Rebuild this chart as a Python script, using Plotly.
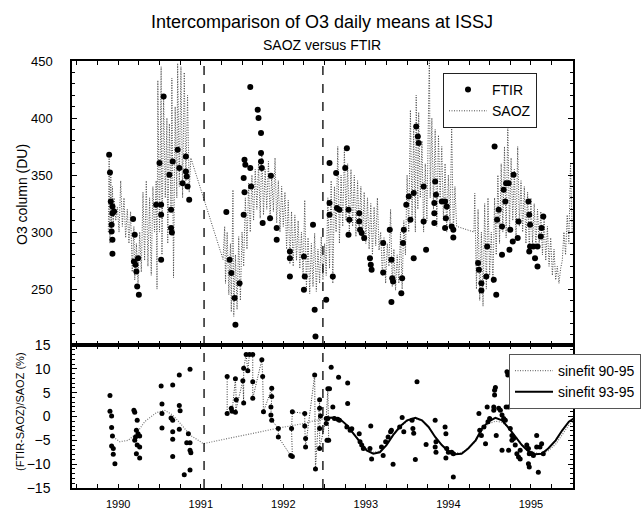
import plotly.graph_objects as go
from plotly.subplots import make_subplots

# ---------------- data ----------------
# FTIR daily means of O3 column (DU): (decimal year, DU)
ftir_points = [
    (1990.39, 367.8), (1990.40, 352.3), (1990.41, 326.9), (1990.43, 322.5), (1990.43, 316.6),
    (1990.42, 306.4), (1990.42, 300.5), (1990.43, 293.2), (1990.43, 281.0), (1990.45, 318.0),
    (1990.68, 311.4), (1990.70, 297.6), (1990.69, 274.2), (1990.71, 271.3), (1990.72, 265.5),
    (1990.73, 252.3), (1990.75, 245.0), (1990.74, 277.1),
    (1990.96, 323.9), (1991.00, 360.5), (1991.02, 323.9), (1991.02, 315.2), (1991.02, 275.7),
    (1991.05, 418.9),
    (1991.12, 350.2), (1991.14, 319.5), (1991.14, 303.5), (1991.15, 299.7), (1991.16, 361.9),
    (1991.22, 372.2), (1991.24, 356.1), (1991.28, 342.9), (1991.32, 353.2), (1991.33, 348.8),
    (1991.34, 340.0), (1991.36, 328.3), (1991.32, 366.3),
    (1991.81, 317.5), (1991.85, 275.7), (1991.87, 264.0), (1991.91, 242.1), (1991.92, 218.7),
    (1991.97, 255.2),
    (1992.03, 363.4), (1992.04, 359.0), (1992.02, 347.3), (1992.03, 334.8), (1992.02, 315.2),
    (1992.10, 427.2), (1992.10, 356.1), (1992.11, 340.0), (1992.19, 407.3), (1992.20, 400.0),
    (1992.23, 386.8), (1992.23, 369.3), (1992.23, 361.9), (1992.24, 356.1), (1992.25, 307.9),
    (1992.35, 349.4), (1992.34, 312.2), (1992.42, 303.5), (1992.42, 293.2),
    (1992.58, 277.1), (1992.58, 261.1), (1992.58, 283.0), (1992.75, 278.6), (1992.76, 261.1),
    (1992.75, 249.4), (1992.86, 306.4), (1992.88, 231.8), (1992.89, 208.4),
    (1993.02, 240.6), (1993.06, 360.5), (1993.06, 325.4), (1993.06, 315.2), (1993.10, 261.1),
    (1993.14, 351.7), (1993.15, 321.0), (1993.18, 319.5), (1993.27, 373.6), (1993.25, 356.1),
    (1993.29, 319.5), (1993.29, 297.6), (1993.30, 310.8), (1993.42, 316.6), (1993.42, 309.3),
    (1993.43, 302.0), (1993.45, 299.1), (1993.48, 294.7), (1993.55, 277.1), (1993.56, 271.3),
    (1993.57, 266.9),
    (1993.71, 290.3), (1993.71, 264.6), (1993.81, 275.7), (1993.82, 259.6), (1993.83, 256.7),
    (1993.81, 238.6), (1993.79, 302.0), (1993.93, 246.4), (1993.94, 259.6), (1993.95, 290.3),
    (1993.96, 302.0), (1993.99, 323.9), (1994.02, 331.2), (1994.04, 310.8), (1994.08, 277.1),
    (1994.08, 334.2), (1994.11, 392.6), (1994.13, 383.9), (1994.14, 378.0), (1994.20, 309.3),
    (1994.20, 340.0), (1994.23, 284.5), (1994.34, 344.4), (1994.33, 325.4), (1994.33, 316.6),
    (1994.33, 307.9), (1994.35, 332.7), (1994.42, 326.9), (1994.46, 326.9), (1994.47, 312.2),
    (1994.46, 303.5), (1994.48, 322.5), (1994.54, 304.9), (1994.56, 295.3), (1994.56, 302.0),
    (1994.86, 272.8), (1994.87, 266.9), (1994.90, 255.2), (1994.90, 248.8), (1994.96, 261.1),
    (1994.97, 287.4), (1995.05, 258.1), (1995.06, 375.1), (1995.08, 245.0), (1995.09, 310.8),
    (1995.11, 319.5), (1995.15, 280.1), (1995.15, 304.9), (1995.17, 337.1), (1995.19, 326.9),
    (1995.20, 342.9), (1995.23, 342.9), (1995.24, 284.5), (1995.25, 302.0), (1995.28, 291.8),
    (1995.29, 350.2), (1995.34, 294.7), (1995.35, 309.3), (1995.47, 326.9), (1995.48, 315.2),
    (1995.48, 283.0), (1995.49, 287.4), (1995.49, 306.4), (1995.53, 287.4), (1995.55, 277.1),
    (1995.58, 269.8), (1995.58, 287.4), (1995.62, 296.2), (1995.63, 303.5), (1995.65, 313.7),
]

# SAOZ daily means of O3 column (DU)
saoz_points = [
    (1990.38, 300), (1990.39, 365), (1990.40, 290), (1990.41, 350), (1990.42, 300), (1990.43, 340),
    (1990.44, 305), (1990.45, 330), (1990.47, 310), (1990.49, 322), (1990.51, 300), (1990.53, 345),
    (1990.55, 305), (1990.57, 330), (1990.59, 295), (1990.61, 320), (1990.63, 290), (1990.65, 318),
    (1990.67, 265), (1990.69, 305), (1990.70, 258), (1990.72, 290), (1990.74, 255), (1990.76, 300),
    (1990.78, 265), (1990.80, 335), (1990.82, 275), (1990.84, 345), (1990.86, 270), (1990.88, 330),
    (1990.90, 262), (1990.92, 340), (1990.94, 300), (1990.96, 345), (1990.97, 250), (1990.98, 433),
    (1991.00, 300), (1991.02, 445), (1991.03, 280), (1991.05, 420), (1991.07, 330), (1991.09, 400),
    (1991.10, 290), (1991.12, 395), (1991.14, 320), (1991.15, 435), (1991.17, 260), (1991.19, 410),
    (1991.21, 330), (1991.22, 448), (1991.24, 340), (1991.26, 445), (1991.28, 330), (1991.30, 440),
    (1991.32, 345), (1991.34, 420), (1991.36, 335), (1991.38, 365),
    (1991.77, 276), (1991.79, 305), (1991.80, 255), (1991.82, 300), (1991.84, 245), (1991.86, 290),
    (1991.87, 230), (1991.89, 337), (1991.90, 226), (1991.92, 280), (1991.94, 232), (1991.96, 296),
    (1991.98, 240), (1992.00, 300), (1992.02, 270), (1992.04, 330), (1992.06, 285), (1992.08, 343),
    (1992.10, 300), (1992.12, 350), (1992.14, 310), (1992.16, 355), (1992.18, 320), (1992.20, 360),
    (1992.22, 312), (1992.24, 372), (1992.26, 315), (1992.28, 355), (1992.30, 320), (1992.32, 362),
    (1992.34, 312), (1992.36, 350), (1992.38, 318), (1992.40, 365), (1992.42, 308), (1992.44, 345),
    (1992.46, 300), (1992.48, 340), (1992.50, 305), (1992.52, 335), (1992.54, 285), (1992.56, 328),
    (1992.58, 272), (1992.60, 318), (1992.62, 270), (1992.64, 315), (1992.66, 275), (1992.68, 310),
    (1992.70, 268), (1992.72, 300), (1992.74, 260), (1992.76, 328), (1992.78, 250), (1992.80, 295),
    (1992.82, 246), (1992.84, 290), (1992.86, 252), (1992.88, 299), (1992.90, 248), (1992.92, 285),
    (1992.94, 255), (1992.96, 296), (1992.98, 258), (1993.00, 290), (1993.02, 262), (1993.04, 330),
    (1993.06, 268), (1993.08, 345), (1993.10, 255), (1993.12, 340), (1993.14, 300), (1993.16, 375),
    (1993.18, 290), (1993.20, 350), (1993.22, 305), (1993.24, 372), (1993.26, 310), (1993.28, 360),
    (1993.30, 300), (1993.32, 355), (1993.34, 305), (1993.36, 350), (1993.38, 296), (1993.40, 345),
    (1993.42, 300), (1993.44, 340), (1993.46, 292), (1993.48, 335), (1993.50, 290), (1993.52, 330),
    (1993.54, 285), (1993.56, 325), (1993.58, 280), (1993.60, 322), (1993.62, 288), (1993.64, 330),
    (1993.66, 284), (1993.68, 300), (1993.70, 262), (1993.72, 295), (1993.74, 255), (1993.76, 290),
    (1993.78, 270), (1993.80, 320), (1993.82, 252), (1993.84, 285), (1993.86, 249), (1993.88, 280),
    (1993.90, 255), (1993.92, 300), (1993.94, 250), (1993.96, 310), (1993.98, 280), (1994.00, 350),
    (1994.02, 300), (1994.04, 407), (1994.06, 310), (1994.08, 390), (1994.10, 300), (1994.11, 420),
    (1994.13, 320), (1994.14, 405), (1994.16, 330), (1994.18, 380), (1994.20, 300), (1994.22, 360),
    (1994.24, 310), (1994.27, 460), (1994.28, 330), (1994.30, 400), (1994.32, 320), (1994.34, 390),
    (1994.36, 305), (1994.38, 385), (1994.40, 330), (1994.42, 375), (1994.44, 310), (1994.46, 360),
    (1994.48, 300), (1994.50, 350), (1994.52, 305), (1994.54, 392), (1994.56, 300), (1994.58, 340),
    (1994.60, 305),
    (1994.81, 300), (1994.82, 334), (1994.84, 250), (1994.86, 320), (1994.88, 240), (1994.90, 300),
    (1994.92, 235), (1994.94, 325), (1994.96, 250), (1994.98, 330), (1995.00, 262), (1995.02, 300),
    (1995.04, 255), (1995.06, 330), (1995.08, 280), (1995.10, 350), (1995.12, 290), (1995.14, 360),
    (1995.16, 300), (1995.18, 375), (1995.20, 295), (1995.22, 397), (1995.24, 300), (1995.26, 365),
    (1995.28, 310), (1995.30, 355), (1995.32, 295), (1995.34, 375), (1995.36, 305), (1995.38, 345),
    (1995.40, 300), (1995.42, 340), (1995.44, 290), (1995.46, 335), (1995.48, 285), (1995.50, 330),
    (1995.52, 290), (1995.54, 325), (1995.56, 286), (1995.58, 320), (1995.60, 290), (1995.62, 318),
    (1995.64, 280), (1995.66, 312), (1995.68, 275), (1995.70, 305), (1995.72, 270), (1995.74, 295),
    (1995.76, 262), (1995.78, 285), (1995.80, 258), (1995.82, 270), (1995.84, 255), (1995.86, 268),
    (1995.88, 275), (1995.90, 300), (1995.92, 280), (1995.94, 315), (1995.96, 290), (1995.98, 360),
    (1996.00, 300),
]

# relative difference (FTIR-SAOZ)/SAOZ in %, isolated points
diff_points = [
    (1990.40, 4.4), (1990.40, 1.1), (1990.42, 0.1), (1990.42, -2.3), (1990.43, -4.1), (1990.42, -6.2),
    (1990.44, -6.7), (1990.44, -7.9), (1990.46, -9.9),
    (1990.69, 1.3), (1990.70, 0.9), (1990.73, -0.8), (1990.72, -2.9), (1990.74, -3.6), (1990.71, -4.3),
    (1990.70, -5.0), (1990.76, -4.1), (1990.73, -6.0), (1990.76, -6.4), (1990.72, -7.8), (1990.76, -8.7),
    (1991.02, 6.4), (1991.03, 2.6), (1991.03, 0.6), (1991.03, -2.4), (1991.16, 6.6), (1991.14, -0.3),
    (1991.16, -0.8), (1991.16, -3.2), (1991.16, -4.8), (1991.16, -8.4), (1991.24, 8.7), (1991.24, 2.3),
    (1991.25, 1.2), (1991.24, -2.7), (1991.30, -12.2), (1991.35, -3.6), (1991.33, -5.5), (1991.37, -5.5),
    (1991.37, -7.1), (1991.38, -7.6), (1991.37, -11.2), (1991.37, 9.9),
    (1993.08, 10.3), (1993.06, 5.8), (1993.10, 2.0), (1993.17, 8.2), (1993.28, 7.0), (1993.28, 2.7),
    (1993.03, -5.0), (1993.02, -1.5), (1993.04, -0.4), (1993.12, -0.4), (1993.16, -0.6), (1993.18, -0.8),
    (1993.27, -2.2), (1993.31, -2.9), (1993.33, -2.6), (1993.42, -3.6), (1993.43, -5.3), (1993.45, -6.0),
    (1993.47, -6.7), (1993.55, -6.7), (1993.57, -8.9), (1993.56, -2.0), (1993.69, -6.4), (1993.71, -8.2),
    (1993.74, -5.3), (1993.77, -4.3), (1993.80, -3.2), (1993.81, -2.9), (1993.83, -10.0), (1993.91, -2.2),
    (1993.94, -0.2), (1993.96, -3.2), (1994.06, -0.8), (1994.07, -2.5), (1994.08, -3.5), (1994.10, -9.0),
    (1994.12, 7.3), (1994.23, -5.9), (1994.34, -0.8), (1994.35, -5.3), (1994.34, -6.4), (1994.35, -7.5),
    (1994.46, -2.2), (1994.47, -3.6), (1994.48, -6.7), (1994.47, -8.7), (1994.50, -7.5), (1994.54, -7.5),
    (1994.56, -7.8), (1994.56, -12.7),
    (1994.87, 0.6), (1994.88, -2.9), (1994.90, -4.0), (1994.93, -2.2), (1994.95, -5.7), (1994.97, 2.0),
    (1994.98, -1.1), (1995.00, -0.4), (1995.05, 2.0), (1995.06, 4.5), (1995.07, 6.1), (1995.08, -4.0),
    (1995.05, 1.3), (1995.11, 1.7), (1995.13, 1.3), (1995.15, 0.3), (1995.17, -0.4), (1995.19, -0.8),
    (1995.20, 2.0), (1995.23, 2.0), (1995.25, -2.5), (1995.27, -4.0), (1995.27, -5.0), (1995.15, -7.1),
    (1995.23, -7.1), (1995.29, -4.6), (1995.31, -6.0), (1995.33, -7.8), (1995.35, -8.5), (1995.37, -7.1),
    (1995.37, -8.9), (1995.45, -6.0), (1995.47, -6.7), (1995.48, -7.8), (1995.47, -9.9), (1995.48, -10.6),
    (1995.51, -7.8), (1995.53, -8.2), (1995.57, -4.0), (1995.57, -6.4), (1995.59, -11.7), (1995.61, -6.4),
    (1995.63, -5.7), (1995.65, -7.8), (1995.22, 8.7), (1995.06, 5.5), (1995.21, 9.4),
]

# relative difference, 1991-1993 period (drawn connected)
diff_linked_points = [
    (1991.82, 8.4), (1991.82, 0.6), (1991.87, 1.7), (1991.88, 1.1), (1991.92, 7.9), (1991.93, 3.5),
    (1991.92, 0.9), (1992.01, 7.5), (1992.02, 2.8), (1992.02, 10.1), (1992.05, 13.0), (1992.07, 9.6),
    (1992.09, 13.0), (1992.13, 13.0), (1992.13, 7.3), (1992.13, 3.8), (1992.24, 11.9), (1992.25, 8.4),
    (1992.26, 1.0), (1992.36, 5.9), (1992.36, 4.2), (1992.35, 2.0), (1992.35, 0.3), (1992.36, -0.8),
    (1992.44, -2.5), (1992.44, -4.3), (1992.59, -8.2), (1992.61, -8.4), (1992.60, -2.5), (1992.61, 1.0),
    (1992.76, 0.6), (1992.76, -2.0), (1992.77, -4.6), (1992.77, -6.4), (1992.88, 8.7), (1992.89, -11.0),
    (1992.94, 3.5), (1992.94, 1.7), (1992.95, 0.1), (1992.94, -2.5), (1992.94, -6.7), (1993.02, -0.4),
    (1993.04, 5.8), (1993.05, -5.0),
]

sinefit_9095 = [
    (1990.44, -4.3), (1990.52, -5.3), (1990.62, -5.0), (1990.72, -3.6), (1990.82, -1.1), (1990.96, 0.8),
    (1991.06, 1.3), (1991.16, 0.3), (1991.27, -1.8), (1991.37, -3.9), (1991.47, -5.0), (1991.53, -5.7),
    (1992.42, -2.5), (1992.58, -2.0), (1992.74, -1.5), (1992.90, -0.8), (1993.00, -0.5), (1993.11, -0.4),
    (1993.19, -0.8), (1993.27, -1.9), (1993.35, -3.6), (1993.43, -5.2), (1993.51, -6.8), (1993.59, -7.5),
    (1993.67, -7.3), (1993.75, -6.0), (1993.83, -4.0), (1993.92, -2.2), (1994.00, -1.0), (1994.10, -0.5),
    (1994.18, -0.9), (1994.26, -2.2), (1994.34, -4.2), (1994.42, -5.9), (1994.50, -7.1), (1994.58, -7.6),
    (1994.66, -7.6), (1994.74, -6.7), (1994.83, -5.2), (1994.91, -3.0), (1994.99, -1.5), (1995.07, -1.0),
    (1995.15, -1.2), (1995.23, -2.4), (1995.31, -4.2), (1995.39, -5.8), (1995.47, -7.0), (1995.55, -7.6),
    (1995.63, -7.8), (1995.71, -7.2), (1995.80, -5.8), (1995.88, -3.8), (1995.96, -1.8), (1996.02, -1.0),
]

sinefit_9395 = [
    (1993.00, -0.3), (1993.11, -0.2), (1993.19, -0.6), (1993.27, -1.8), (1993.35, -3.6), (1993.43, -5.3),
    (1993.51, -7.1), (1993.59, -7.8), (1993.67, -7.5), (1993.75, -6.0), (1993.83, -3.9), (1993.92, -2.0),
    (1994.00, -0.8), (1994.10, -0.3), (1994.18, -0.8), (1994.26, -2.2), (1994.34, -4.3), (1994.42, -6.0),
    (1994.50, -7.3), (1994.58, -7.9), (1994.66, -7.8), (1994.74, -6.7), (1994.83, -5.0), (1994.91, -2.5),
    (1994.99, -1.0), (1995.07, -0.3), (1995.15, -0.8), (1995.23, -2.4), (1995.31, -4.3), (1995.39, -6.0),
    (1995.47, -7.3), (1995.55, -7.9), (1995.63, -7.8), (1995.71, -6.7), (1995.80, -5.0), (1995.88, -2.9),
    (1995.96, -1.1), (1996.02, -0.4),
]

instrument_breaks = [1991.54, 1992.98]
year_labels = ["1990", "1991", "1992", "1993", "1994", "1995"]
o3_ticks = [250, 300, 350, 400, 450]
pct_ticks = [-15, -10, -5, 0, 5, 10, 15]

# ---------------- figure ----------------
FONT = "Liberation Sans, Arial, Helvetica, sans-serif"
W, H = 643, 514
ML, MR, MT, MB = 72, 70, 61, 26
PW, PH = W - ML - MR, H - MT - MB


def split(points):
    return [p[0] for p in points], [p[1] for p in points]


fig = make_subplots(rows=2, cols=1, shared_xaxes=True, vertical_spacing=0,
                    row_heights=[0.665, 0.335])

st, sv = split(saoz_points)
fig.add_trace(go.Scatter(x=st, y=sv, mode="lines", name="SAOZ", legendrank=2,
                         line=dict(color="#4a4a4a", width=1, dash="1px,1.5px")), row=1, col=1)
ft, fv = split(ftir_points)
fig.add_trace(go.Scatter(x=ft, y=fv, mode="markers", name="FTIR", legendrank=1,
                         marker=dict(color="black", size=6)), row=1, col=1)

s1t, s1v = split(sinefit_9095)
fig.add_trace(go.Scatter(x=s1t, y=s1v, mode="lines", name="sinefit 90-95", legend="legend2",
                         line=dict(color="#777777", width=1.2, dash="1px,1.5px")), row=2, col=1)
s2t, s2v = split(sinefit_9395)
fig.add_trace(go.Scatter(x=s2t, y=s2v, mode="lines", name="sinefit 93-95", legend="legend2",
                         line=dict(color="black", width=2)), row=2, col=1)
lt, lv = split(diff_linked_points)
fig.add_trace(go.Scatter(x=lt, y=lv, mode="lines+markers", showlegend=False,
                         line=dict(color="#333333", width=1, dash="1px,1.5px"),
                         marker=dict(color="black", size=5)), row=2, col=1)
dt, dv = split(diff_points)
fig.add_trace(go.Scatter(x=dt, y=dv, mode="markers", showlegend=False,
                         marker=dict(color="black", size=5)), row=2, col=1)

for b in instrument_breaks:
    for yref in ("y domain", "y2 domain"):
        fig.add_shape(type="line", xref="x", yref=yref, x0=b, x1=b, y0=0, y1=1,
                      line=dict(color="black", width=1.3, dash="dash"))

axis_common = dict(showline=True, linecolor="black", linewidth=1.5, mirror="ticks",
                   ticks="inside", tickcolor="black", showgrid=False, zeroline=False)

xr = [1989.94, 1996.01]
fig.update_xaxes(range=xr, tickvals=[int(y) + 0.5 for y in year_labels], ticktext=year_labels,
                 ticklen=4, minor=dict(dtick=0.25, tick0=1990, ticks="inside", ticklen=4,
                                       tickcolor="black"),
                 **axis_common)
fig.update_xaxes(showticklabels=False, row=1, col=1)
fig.update_xaxes(tickfont=dict(size=11, family=FONT, color="black"), ticklabelstandoff=5,
                 row=2, col=1)

fig.update_yaxes(range=[201, 450], tickvals=o3_ticks, ticklen=5,
                 minor=dict(dtick=10, tick0=0, ticks="inside", ticklen=3, tickcolor="black"),
                 tickfont=dict(size=13, family=FONT, color="black"), ticklabelstandoff=15,
                 row=1, col=1, **axis_common)
fig.update_yaxes(range=[-15, 15], tickvals=pct_ticks, ticklen=5,
                 minor=dict(dtick=1, tick0=0, ticks="inside", ticklen=3, tickcolor="black"),
                 tickfont=dict(size=14, family=FONT, color="black"), ticklabelstandoff=17,
                 row=2, col=1, **axis_common)


def px_x(x):
    return (x - ML) / PW


def px_y(y):
    return (H - MB - y) / PH


fig.update_layout(
    width=W, height=H,
    margin=dict(l=ML, r=MR, t=MT, b=MB, autoexpand=False),
    paper_bgcolor="white", plot_bgcolor="white",
    font=dict(family=FONT, color="black"),
    title=dict(text="Intercomparison of O3 daily means at ISSJ", x=322 / W, xanchor="center",
               y=1 - 22 / H, yanchor="middle", font=dict(size=18, family=FONT, color="black")),
    annotations=[
        dict(text="SAOZ versus FTIR", xref="paper", yref="paper", x=px_x(322), y=px_y(45),
             xanchor="center", yanchor="middle", showarrow=False,
             font=dict(size=14, family=FONT, color="black")),
        dict(text="O3 column (DU)", xref="paper", yref="paper", x=px_x(22), y=px_y(195),
             xanchor="center", yanchor="middle", showarrow=False, textangle=-90,
             font=dict(size=14, family=FONT, color="black")),
        dict(text="(FTIR-SAOZ)/SAOZ (%)", xref="paper", yref="paper", x=px_x(20), y=px_y(412),
             xanchor="center", yanchor="middle", showarrow=False, textangle=-90,
             font=dict(size=11, family=FONT, color="black")),
    ],
    legend=dict(x=px_x(443), y=px_y(73), xanchor="left", yanchor="top", bgcolor="white",
                bordercolor="#222222", borderwidth=1, font=dict(size=14, family=FONT),
                tracegroupgap=0, itemwidth=38),
    legend2=dict(x=px_x(509), y=px_y(354), xanchor="left", yanchor="top", bgcolor="white",
                 bordercolor="#555555", borderwidth=1, font=dict(size=14, family=FONT),
                 tracegroupgap=0, itemwidth=38),
    showlegend=True,
)

fig.write_html("out.html", config={"displayModeBar": False},
               post_script="document.body.style.margin='0';")
